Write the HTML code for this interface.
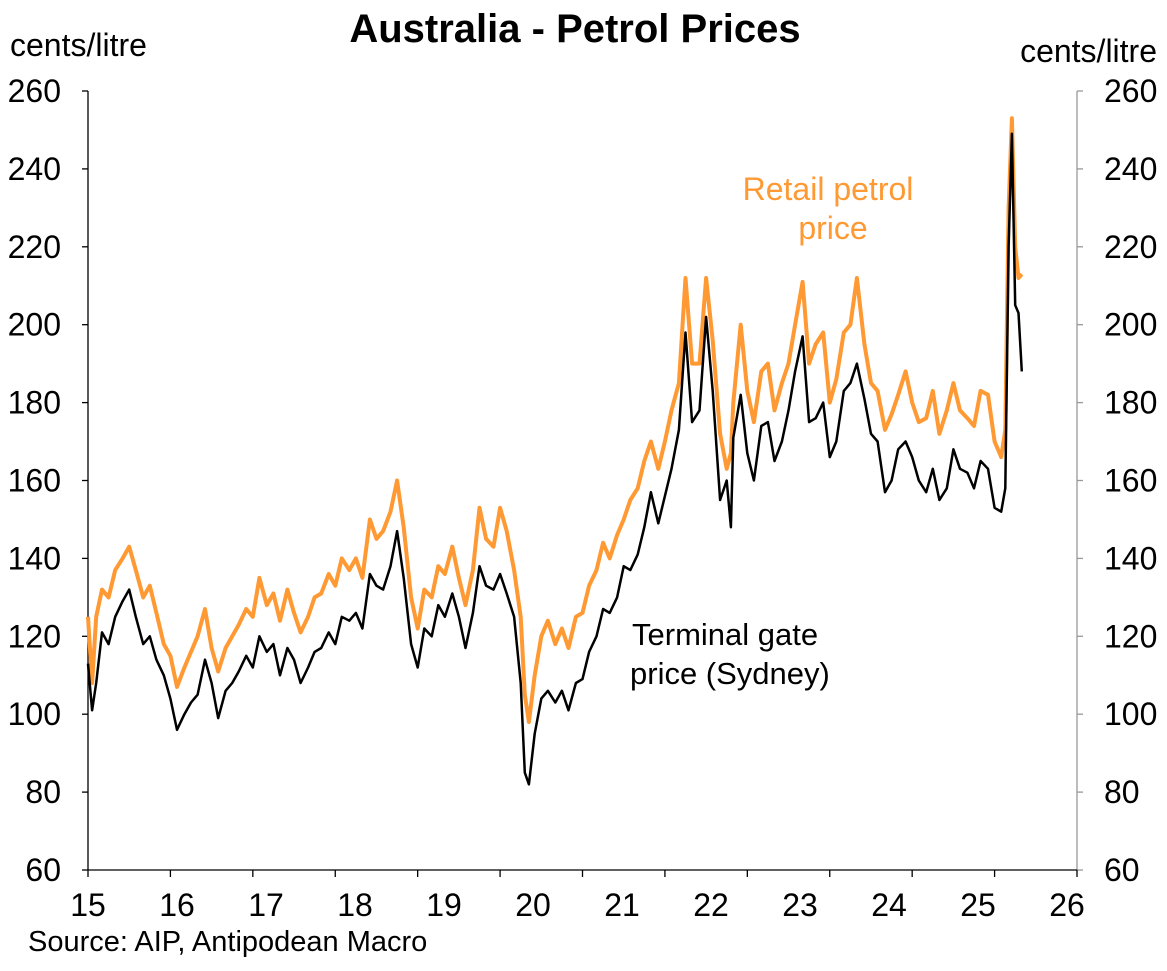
<!DOCTYPE html>
<html><head><meta charset="utf-8"><style>
body{margin:0;background:#fff;}
svg text{font-family:"Liberation Sans",Arial,sans-serif;}
</style></head><body>
<svg id="chart" width="1167" height="966" xmlns="http://www.w3.org/2000/svg">
<text x="575" y="42" text-anchor="middle" font-size="40" font-weight="bold">Australia - Petrol Prices</text>
<text x="10" y="56" font-size="32">cents/litre</text>
<text x="1157" y="62" text-anchor="end" font-size="32">cents/litre</text>
<text x="828" y="200" text-anchor="middle" font-size="32" fill="#FF9933">Retail petrol</text>
<text x="833" y="239" text-anchor="middle" font-size="32" fill="#FF9933">price</text>
<text x="632" y="645" font-size="31">Terminal gate</text>
<text x="630" y="684" font-size="31">price (Sydney)</text>
<text x="28" y="951" font-size="29">Source: AIP, Antipodean Macro</text>
<g id="axes"></g>
<g id="series"></g>
</svg>
<script>
const yTicks=[60,80,100,120,140,160,180,200,220,240,260];
const xLabels=["15","16","17","18","19","20","21","22","23","24","25","26"];
const dates=[15.00,15.05,15.10,15.17,15.25,15.33,15.42,15.50,15.58,15.67,15.75,15.83,15.92,16.00,16.08,16.17,16.25,16.33,16.42,16.50,16.58,16.67,16.75,16.83,16.92,17.00,17.08,17.17,17.25,17.33,17.42,17.50,17.58,17.67,17.75,17.83,17.92,18.00,18.08,18.17,18.25,18.33,18.42,18.50,18.58,18.67,18.75,18.83,18.92,19.00,19.08,19.17,19.25,19.33,19.42,19.50,19.58,19.67,19.75,19.83,19.92,20.00,20.08,20.17,20.25,20.30,20.35,20.42,20.50,20.58,20.67,20.75,20.83,20.92,21.00,21.08,21.17,21.25,21.33,21.42,21.50,21.58,21.67,21.75,21.83,21.92,22.00,22.08,22.17,22.25,22.33,22.42,22.50,22.58,22.67,22.75,22.80,22.83,22.92,23.00,23.08,23.17,23.25,23.33,23.42,23.50,23.58,23.67,23.75,23.83,23.92,24.00,24.08,24.17,24.25,24.33,24.42,24.50,24.58,24.67,24.75,24.83,24.92,25.00,25.08,25.17,25.25,25.33,25.42,25.50,25.58,25.67,25.75,25.83,25.92,26.00,26.08,26.13,26.17,26.21,26.25,26.29,26.33];
const terminal=[113,101,108,121,118,125,129,132,125,118,120,114,110,104,96,100,103,105,114,108,99,106,108,111,115,112,120,116,118,110,117,114,108,112,116,117,121,118,125,124,126,122,136,133,132,138,147,135,118,112,122,120,128,125,131,125,117,126,138,133,132,136,131,125,108,85,82,95,104,106,103,106,101,108,109,116,120,127,126,130,138,137,141,148,157,149,156,163,173,198,175,178,202,183,155,160,148,171,182,167,160,174,175,165,170,178,188,197,175,176,180,166,170,183,185,190,181,172,170,157,160,168,170,166,160,157,163,155,158,168,163,162,158,165,163,153,152,158,220,249,205,203,188];
const retail=[125,108,125,132,130,137,140,143,137,130,133,126,118,115,107,112,116,120,127,117,111,117,120,123,127,125,135,128,131,124,132,126,121,125,130,131,136,133,140,137,140,135,150,145,147,152,160,148,130,122,132,130,138,136,143,135,128,137,153,145,143,153,147,137,125,105,98,110,120,124,118,122,117,125,126,133,137,144,140,146,150,155,158,165,170,163,170,178,185,212,190,190,212,196,172,163,167,180,200,183,175,188,190,178,185,190,200,211,190,195,198,180,186,198,200,212,195,185,183,173,177,182,188,180,175,176,183,172,178,185,178,176,174,183,182,170,166,173,230,253,220,212,213];
const NS="http://www.w3.org/2000/svg";
const L=88,R=1077,T=91,B=870;
function yS(v){return B-(v-60)/200*(B-T);}
function xS(d){return L+(d-15)*(R-L)/12;}
function mk(tag,attrs,parent){const e=document.createElementNS(NS,tag);for(const k in attrs)e.setAttribute(k,attrs[k]);parent.appendChild(e);return e;}
const ax=document.getElementById('axes');
let e=mk('line',{x1:L,y1:T,x2:L,y2:B,stroke:'#000','stroke-width':1.3},ax);


e=mk('line',{x1:R,y1:T,x2:R,y2:B,stroke:'#999','stroke-width':1.3},ax);


e=mk('line',{x1:L,y1:B,x2:R,y2:B,stroke:'#000','stroke-width':1.3},ax);


yTicks.forEach(v=>{const y=yS(v);
 mk('line',{x1:L-6,y1:y,x2:L,y2:y,stroke:'#000','stroke-width':1.3},ax);
 mk('line',{x1:R,y1:y,x2:R+6,y2:y,stroke:'#999','stroke-width':1.3},ax);
 let t=mk('text',{x:L-27,y:y+11,'text-anchor':'end','font-size':32},ax);t.textContent=v;
 
 
 t=mk('text',{x:R+27,y:y+11,'font-size':32},ax);t.textContent=v;
 
 
});
for(let i=0;i<=12;i++){const x=L+i*(R-L)/12;mk('line',{x1:x,y1:B,x2:x,y2:B+7,stroke:'#000','stroke-width':1.3},ax);}
xLabels.forEach((s,i)=>{const t=mk('text',{x:L+i*89,y:B+46,'text-anchor':'middle','font-size':32},ax);t.textContent=s;
 
 });
const sg=document.getElementById('series');
function line(vals,color,w,name){const p=mk('path',{d:vals.map((v,i)=>(i?'L':'M')+xS(dates[i]).toFixed(1)+','+yS(v).toFixed(1)).join(''),fill:'none',stroke:color,'stroke-width':w,'stroke-linejoin':'round'},sg);
 
 }
line(retail,'#FF9933',4,'retail-petrol-line');
line(terminal,'#000',2.5,'terminal-gate-line');
</script>
</body></html>
